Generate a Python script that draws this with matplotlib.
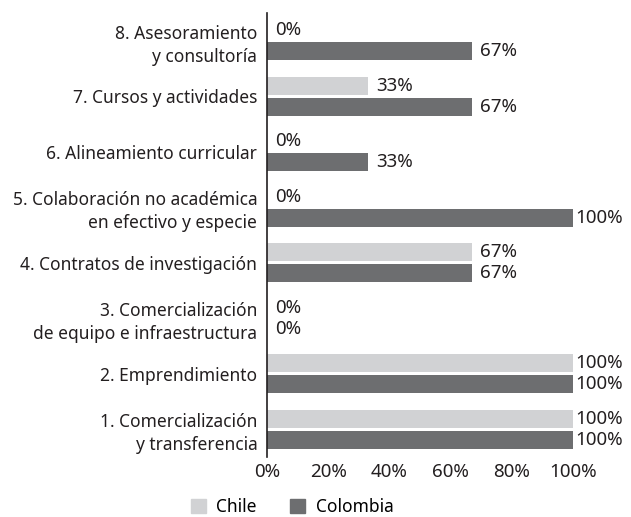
import matplotlib
matplotlib.use("Agg")
import matplotlib.pyplot as plt
import numpy as np
from matplotlib.patches import Patch

plt.rcParams['font.family'] = ['Noto Sans', 'DejaVu Sans']

categories = [
    "1. Comercialización\ny transferencia",
    "2. Emprendimiento",
    "3. Comercialización\nde equipo e infraestructura",
    "4. Contratos de investigación",
    "5. Colaboración no académica\nen efectivo y especie",
    "6. Alineamiento curricular",
    "7. Cursos y actividades",
    "8. Asesoramiento\ny consultoría",
]
chile = [100, 100, 0, 67, 0, 0, 33, 0]
colombia = [100, 100, 0, 67, 100, 33, 67, 67]
xticks = [0, 20, 40, 60, 80, 100]

c_chile = "#d1d2d4"
c_col = "#6d6e70"
tc = "#231f20"

fig = plt.figure(figsize=(6.31, 5.17), dpi=100)
ax = fig.add_axes([267/631, 1-457/517, (573-267)/631, (457-13)/517])

y = np.arange(len(categories))
h = 0.325
off = 0.19
ax.barh(y + off, chile, height=h, color=c_chile, label="Chile")
ax.barh(y - off, colombia, height=h, color=c_col, label="Colombia")

fs = 12.5
fn = 13.5
for yi, v in zip(y + off, chile):
    dx = 2 if v >= 100 else 8
    ax.annotate(f"{v}%", (v, yi), xytext=(dx, 0), textcoords="offset pixels",
                va="center", ha="left", fontsize=fn, color=tc)
for yi, v in zip(y - off, colombia):
    dx = 2 if v >= 100 else 8
    ax.annotate(f"{v}%", (v, yi), xytext=(dx, 0), textcoords="offset pixels",
                va="center", ha="left", fontsize=fn, color=tc)

ax.set_xlim(0, 100)
ax.set_ylim(-0.5, len(categories) - 0.5)
ax.set_yticks(y)
ax.set_yticklabels(categories, fontsize=fs, color=tc, ha="right", linespacing=1.36)
ax.set_xticks(xticks)
ax.set_xticklabels([f"{t}%" for t in xticks], fontsize=fn, color=tc)
ax.tick_params(axis="both", length=0)
ax.tick_params(axis="y", pad=7)
ax.tick_params(axis="x", pad=4)
for s in ["top", "right", "bottom"]:
    ax.spines[s].set_visible(False)
ax.spines["left"].set_color(tc)
ax.spines["left"].set_linewidth(1.2)

handles = [Patch(color=c_chile, label="Chile"), Patch(color=c_col, label="Colombia")]
fig.legend(handles=handles, loc="center", bbox_to_anchor=(292/631, 1-507/517),
           ncol=2, frameon=False, fontsize=fs, handlelength=0.88, handleheight=0.88,
           columnspacing=1.9, handletextpad=0.6)

fig.savefig("out.png", dpi=100)
